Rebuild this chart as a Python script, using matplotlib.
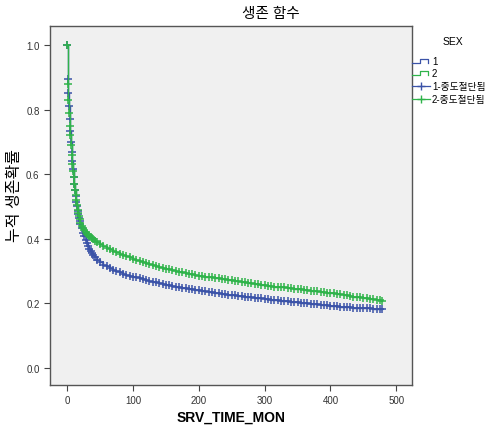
import matplotlib
matplotlib.use("Agg")
import matplotlib.pyplot as plt
from matplotlib.lines import Line2D

plt.rcParams['font.family'] = ['Liberation Sans', 'Noto Sans CJK KR', 'DejaVu Sans']

# survival estimates (months, cumulative survival)
months = [0, 1, 2, 3, 4, 5, 6, 7, 8, 9, 10, 11, 12, 13, 14, 15, 16, 17, 18, 19, 20,
          22, 24, 26, 28, 30, 32, 34, 36, 38, 40, 43, 46, 50,
          55, 60, 65, 70, 75, 80, 85, 90, 95, 100,
          105, 110, 115, 120, 125, 130, 135, 140, 145, 150,
          155, 160, 165, 170, 175, 180, 185, 190, 195, 200,
          205, 210, 215, 220, 225, 230, 235, 240, 245, 250,
          255, 260, 265, 270, 275, 280, 285, 290, 295, 300,
          305, 310, 315, 320, 325, 330, 335, 340, 345, 350,
          355, 360, 365, 370, 375, 380, 385, 390, 395, 400,
          405, 410, 415, 420, 425, 430, 435, 440, 445, 450,
          455, 460, 465, 470, 475, 478]

surv_1 = [1.0, 0.895, 0.85, 0.81, 0.77, 0.735, 0.70, 0.67, 0.64, 0.615, 0.59, 0.57,
          0.55, 0.532, 0.515, 0.50, 0.487, 0.475, 0.464, 0.454, 0.445,
          0.432, 0.419, 0.407, 0.396, 0.386, 0.377, 0.369, 0.362, 0.356, 0.350, 0.342, 0.335, 0.327,
          0.320, 0.314, 0.309, 0.304, 0.300, 0.296, 0.292, 0.289, 0.286, 0.283,
          0.280, 0.278, 0.275, 0.272, 0.270, 0.267, 0.265, 0.262, 0.260, 0.258,
          0.256, 0.254, 0.252, 0.250, 0.248, 0.246, 0.244, 0.243, 0.241, 0.240,
          0.238, 0.237, 0.235, 0.234, 0.232, 0.231, 0.230, 0.229, 0.227, 0.226,
          0.225, 0.224, 0.222, 0.221, 0.220, 0.219, 0.217, 0.216, 0.215, 0.214,
          0.212, 0.211, 0.210, 0.209, 0.208, 0.207, 0.206, 0.205, 0.204, 0.203,
          0.202, 0.201, 0.200, 0.199, 0.198, 0.197, 0.196, 0.195, 0.194, 0.193,
          0.192, 0.191, 0.190, 0.190, 0.189, 0.188, 0.187, 0.186, 0.185, 0.185,
          0.184, 0.184, 0.183, 0.183, 0.183, 0.183]

surv_2 = [1.0, 0.88, 0.83, 0.79, 0.75, 0.72, 0.69, 0.66, 0.63, 0.61, 0.59, 0.57,
          0.55, 0.535, 0.52, 0.505, 0.49, 0.48, 0.47, 0.46, 0.45,
          0.44, 0.432, 0.426, 0.420, 0.415, 0.411, 0.407, 0.404, 0.401, 0.398, 0.394, 0.390, 0.385,
          0.378, 0.372, 0.367, 0.362, 0.358, 0.354, 0.350, 0.346, 0.342, 0.338,
          0.334, 0.331, 0.328, 0.325, 0.322, 0.319, 0.316, 0.313, 0.310, 0.307,
          0.305, 0.302, 0.300, 0.298, 0.296, 0.294, 0.292, 0.290, 0.288, 0.286,
          0.284, 0.283, 0.281, 0.280, 0.278, 0.277, 0.275, 0.274, 0.272, 0.271,
          0.269, 0.268, 0.266, 0.265, 0.263, 0.262, 0.261, 0.260, 0.258, 0.257,
          0.255, 0.254, 0.252, 0.251, 0.250, 0.249, 0.248, 0.247, 0.245, 0.244,
          0.243, 0.241, 0.240, 0.239, 0.238, 0.237, 0.235, 0.234, 0.233, 0.232,
          0.231, 0.230, 0.228, 0.227, 0.225, 0.224, 0.221, 0.219, 0.218, 0.217,
          0.215, 0.213, 0.212, 0.210, 0.209, 0.208]

labels = ['1', '2', '1-중도절단됨', '2-중도절단됨']
c1 = '#3b53a8'
c2 = '#2fb34a'

fig = plt.figure(figsize=(4.9, 4.27), dpi=100)
ax = fig.add_axes([0.102, 0.096, 0.739, 0.841])
ax.set_facecolor('#f0f0f0')

ax.step(months, surv_1, where='post', color=c1, lw=1)
ax.plot(months, surv_1, '+', color=c1, ms=5.5, mew=1.1)
ax.step(months, surv_2, where='post', color=c2, lw=1)
ax.plot(months, surv_2, '+', color=c2, ms=5.5, mew=1.1)

ax.set_xlim(-26, 524)
ax.set_ylim(-0.053, 1.059)
ax.set_xticks([0, 100, 200, 300, 400, 500])
ax.set_yticks([0.0, 0.2, 0.4, 0.6, 0.8, 1.0])
ax.set_yticklabels(['0.0', '0.2', '0.4', '0.6', '0.8', '1.0'])
ax.tick_params(length=4, width=0.8, colors='#444444', labelsize=7, labelcolor='#333333')
for s in ax.spines.values():
    s.set_color('#555555')
    s.set_linewidth(1)

W, H = 490, 427
fig.text(231 / W, 1 - 418 / H, 'SRV_TIME_MON', ha='center', va='center',
         fontsize=10, fontweight='bold')
fig.text(15 / W, 1 - 196 / H, '누적 생존확률', ha='center', va='center',
         rotation=90, fontsize=11.5)
fig.text(271 / W, 1 - 14 / H, '생존 함수', ha='center', va='center', fontsize=10.5)

# legend drawn by hand to keep the step icons
fig.text(453 / W, 1 - 42 / H, 'SEX', ha='center', va='center', fontsize=7.5)
ys = [62, 74, 87, 100]
cols = [c1, c2, c1, c2]
for i, (y, c, lab) in enumerate(zip(ys, cols, labels)):
    if i < 2:
        xs = [412, 420, 420, 428, 428]
        yy = [y + 2, y + 2, y - 2, y - 2, y + 2]
        fig.add_artist(Line2D([x / W for x in xs], [1 - v / H for v in yy],
                              color=c, lw=0.9, transform=fig.transFigure))
    else:
        fig.add_artist(Line2D([412 / W, 430 / W], [1 - y / H, 1 - y / H],
                              color=c, lw=0.9, transform=fig.transFigure))
        fig.add_artist(Line2D([421 / W], [1 - y / H], marker='+', ms=6, mew=1,
                              color=c, transform=fig.transFigure))
    fig.text(432 / W, 1 - y / H, lab, ha='left', va='center', fontsize=7)

fig.savefig('out.png', dpi=100, facecolor='white')
